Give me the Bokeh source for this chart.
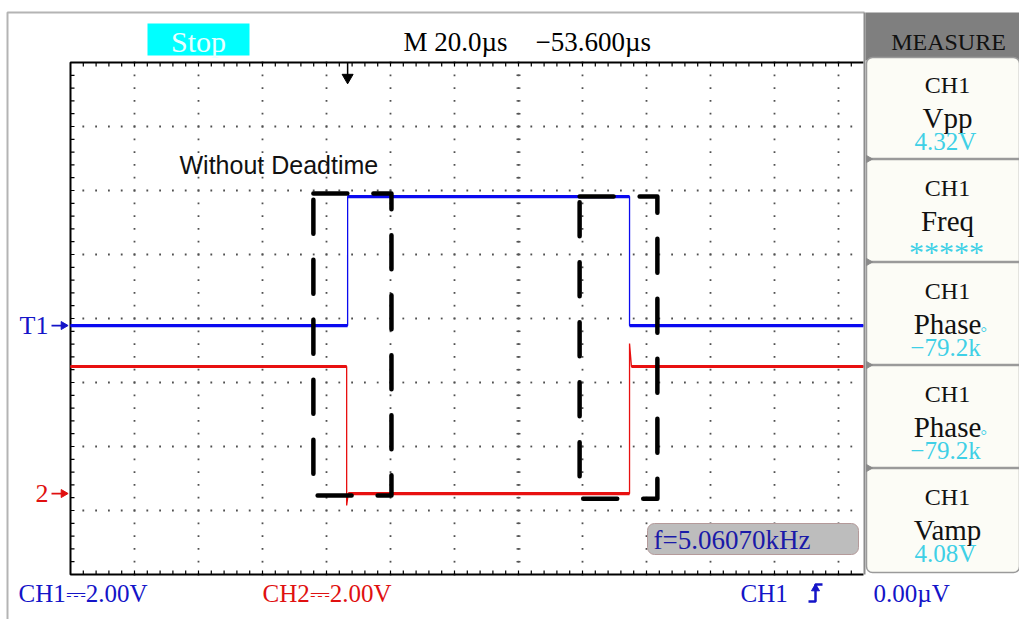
from bokeh.plotting import figure
from bokeh.models import Range1d
from bokeh.core.properties import value
from bokeh.embed import file_html
from bokeh.resources import INLINE

# ---------------- data read from the oscilloscope screen ----------------
# time in microseconds from the left edge of the graticule (20 us/div)
# levels in volts (2 V/div), relative to each channel's ground marker
ch1_time_us = [0.0, 86.6, 86.6, 174.7, 174.7, 247.8]
ch1_volts = [0.0, 0.0, 4.03, 4.03, 0.0, 0.0]
ch2_time_us = [0.0, 86.3, 86.3, 86.8, 174.7, 174.7, 175.3, 247.8]
ch2_volts = [3.97, 3.97, -0.37, 0.0, 0.0, 4.69, 3.97, 3.97]
ch1_ground = -0.22     # screen volts of the "T1" marker
ch2_ground = -5.47     # screen volts of the "2" marker
trigger_us = 86.6

# dashed highlight windows around the switching edges
box_start_us = [75.9, 159.1]
box_end_us = [100.3, 183.4]
box_top_v = [3.91, 3.81]
box_bottom_v = [-5.53, -5.63]

measure_channel = ["CH1", "CH1", "CH1", "CH1", "CH1"]
measure_names = ["Vpp", "Freq", "Phase", "Phase", "Vamp"]
measure_values = ["4.32V", "*****", "\u221279.2k", "\u221279.2k", "4.08V"]

# ---------------- screen geometry ----------------
W, H = 1019, 619
GX0, GY0, DIV = 70, 62, 64          # graticule left/top (px) and px per division
CY = GY0 + 4 * DIV                  # centre line
US_PER_DIV, V_PER_DIV = 20.0, 2.0
GX1 = 863                           # right edge of visible graticule


def X(px):
    return (px - GX0) / DIV * US_PER_DIV


def Y(py):
    return (CY - py) / DIV * V_PER_DIV


p = figure(width=W, height=H, x_range=Range1d(X(0), X(W)), y_range=Range1d(Y(H), Y(0)),
           output_backend="svg", toolbar_location=None, x_axis_location=None,
           y_axis_location=None, min_border=0, outline_line_color=None,
           background_fill_color="white", border_fill_color="white")
p.grid.visible = False

SERIF = value("Liberation Serif")
SANS = value("Liberation Sans")


def txt(px, py, s, size, color, font=SERIF, align="left"):
    p.text(x=[X(px)], y=[Y(py)], text=[s], text_font=font, text_font_size=f"{size}px",
           text_color=color, text_align=align, text_baseline="middle")


# outer screen frame
p.line([X(7), X(7), X(864)], [Y(H), Y(12), Y(12)], line_color="#b4b4b4", line_width=2)

# dotted graticule (a dot every fifth of a division along each division line)
SUB_T = US_PER_DIV / 5
SUB_V = V_PER_DIV / 5
n_t = int(X(GX1) / SUB_T) + 1
dots_x, dots_y = [], []
for k in range(1, 13):                      # vertical division lines
    for j in range(0, 41):
        dots_x.append(k * US_PER_DIV); dots_y.append(-4 * V_PER_DIV + j * SUB_V)
for k in range(-3, 4):                      # horizontal division lines
    for j in range(1, n_t):
        dots_x.append(j * SUB_T); dots_y.append(k * V_PER_DIV)
p.scatter(x=dots_x, y=dots_y, marker="square", size=1.8, fill_color="#505050",
          line_color=None)

# graticule border with minor ticks
p.line([X(GX1), X(GX0), X(GX0), X(GX1)], [4 * V_PER_DIV, 4 * V_PER_DIV, -4 * V_PER_DIV, -4 * V_PER_DIV],
       line_color="black", line_width=2)
minor_t = [k * SUB_T for k in range(1, n_t)]
minor_v = [-4 * V_PER_DIV + k * SUB_V for k in range(1, 40)]
tick_v = 4 / DIV * V_PER_DIV
tick_t = 4 / DIV * US_PER_DIV
p.segment(x0=minor_t, x1=minor_t, y0=[4 * V_PER_DIV] * len(minor_t),
          y1=[4 * V_PER_DIV - tick_v] * len(minor_t), line_color="black", line_width=1.2)
p.segment(x0=minor_t, x1=minor_t, y0=[-4 * V_PER_DIV] * len(minor_t),
          y1=[-4 * V_PER_DIV + tick_v] * len(minor_t), line_color="black", line_width=1.2)
p.segment(x0=[0] * len(minor_v), x1=[tick_t] * len(minor_v), y0=minor_v, y1=minor_v,
          line_color="black", line_width=1.2)
# centre line ticks
cx = 7 * US_PER_DIV
p.segment(x0=[cx - tick_t / 2] * len(minor_v), x1=[cx + tick_t / 2] * len(minor_v),
          y0=minor_v, y1=minor_v, line_color="#555555", line_width=1.4)


# traces
def flats(t, v):
    out = ([], [], [], [])
    for i in range(len(t) - 1):
        if v[i] == v[i + 1] and t[i + 1] > t[i]:
            out[0].append(t[i]); out[1].append(t[i + 1]); out[2].append(v[i]); out[3].append(v[i + 1])
    return out


for t, v, g, col in [(ch1_time_us, ch1_volts, ch1_ground, "#0a0af0"),
                     (ch2_time_us, ch2_volts, ch2_ground, "#e81010")]:
    yy = [g + a for a in v]
    p.line(t, yy, line_color=col, line_width=1.3)
    x0, x1, y0, y1 = flats(t, yy)
    p.segment(x0=x0, x1=x1, y0=y0, y1=y1, line_color=col, line_width=3.2)

# dashed highlight boxes
for a, b, top, bot in zip(box_start_us, box_end_us, box_top_v, box_bottom_v):
    p.line([a, b, b, a, a], [top, top, bot, bot, top], line_color="black", line_width=4.5,
           line_dash="34 26", line_cap="round", line_join="round")

# trigger position marker
p.segment(x0=[trigger_us], x1=[trigger_us], y0=[Y(GY0)], y1=[Y(75)], line_color="black", line_width=1.5)
p.scatter(x=[trigger_us], y=[Y(77)], marker="inverted_triangle", size=11, color="black")

# channel ground markers
p.text(x=[X(48)], y=[ch1_ground], text=["T1"], text_font=SERIF, text_font_size="26px",
       text_color="#1414c8", text_align="right", text_baseline="middle")
p.text(x=[X(48)], y=[ch2_ground], text=["2"], text_font=SERIF, text_font_size="26px",
       text_color="#e01010", text_align="right", text_baseline="middle")
for g, col in [(ch1_ground, "#1414c8"), (ch2_ground, "#e01010")]:
    p.segment(x0=[X(51)], x1=[X(62)], y0=[g], y1=[g], line_color=col, line_width=1.8)
    p.scatter(x=[X(63)], y=[g], marker="triangle", angle=-1.5708, size=8, color=col)

# header: Stop box and timebase
p.quad(left=[X(147)], right=[X(249)], top=[Y(23)], bottom=[Y(55)], fill_color="#00ffff", line_color=None)
txt(198, 41, "Stop", 30, "#e8ffff", align="center")
txt(403, 41, "M 20.0\u00b5s", 27, "black")
txt(535, 41, "\u221253.600\u00b5s", 27, "black")

# annotation
txt(179, 164, "Without Deadtime", 25, "#111111", font=SANS)

# frequency readout
p.quad(left=[X(647)], right=[X(858)], top=[Y(523)], bottom=[Y(554)], fill_color="#bdbdbd",
       line_color="#b49a9a", line_width=1, border_radius=7)
txt(653, 539, "f=5.06070kHz", 27, "#1a1aa8")

# bottom status line
txt(18, 593, "CH1\u23932.00V", 25, "#1414c8")
txt(262, 593, "CH2\u23932.00V", 25, "#e01010")
txt(740, 593, "CH1", 25, "#1414c8")
p.line([X(808), X(815), X(815), X(822)], [Y(601), Y(601), Y(584), Y(584)], line_color="#1414c8", line_width=2.5)
p.scatter(x=[X(815)], y=[Y(588)], marker="triangle", size=8, color="#1414c8")
txt(873, 593, "0.00\u00b5V", 25, "#1414c8")

# measure side panel
p.line([X(864), X(864)], [Y(12), Y(574)], line_color="#8c8c8c", line_width=2)
p.quad(left=[X(865)], right=[X(W)], top=[Y(12)], bottom=[Y(60)], fill_color="#7f7f7f", line_color=None)
txt(948, 41, "MEASURE", 24, "#111111", align="center")
p.quad(left=[X(866)], right=[X(W)], top=[Y(57)], bottom=[Y(572)], fill_color="#fcfcf6",
       line_color="#9a9a9a", line_width=1.5, border_radius=6)
PANEL_H = 103
for i, (ch, name, val) in enumerate(zip(measure_channel, measure_names, measure_values)):
    top = 57 + PANEL_H * i
    if i > 0:
        p.line([X(866), X(W)], [Y(top - 1.5), Y(top - 1.5)], line_color="#9a9a9a", line_width=2.5)
        p.scatter(x=[X(868)], y=[Y(top - 1.5)], marker="triangle", angle=-1.5708, size=7, color="#8a8a8a")
    txt(947, top + 27, ch, 24, "#111111", align="center")
    txt(947, top + 60, name, 29, "#111111", align="center")
    if val.startswith("*"):
        txt(946, top + 91, val, 30, "#3fd0e6", align="center")
    else:
        txt(945, top + 84, val, 25, "#3fd0e6", align="center")
    if name == "Phase":
        txt(980, top + 69, "\u00b0", 16, "#3fd0e6")

open("out.html", "w").write(file_html(p, INLINE))
